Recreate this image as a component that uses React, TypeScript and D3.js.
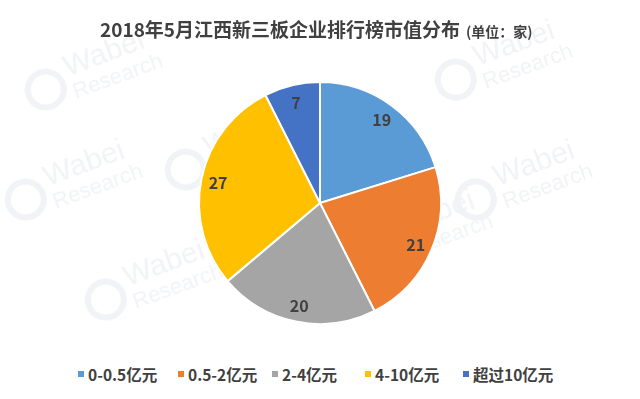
import React from "react";
import * as d3 from "d3";

const categories = ["0-0.5亿元", "0.5-2亿元", "2-4亿元", "4-10亿元", "超过10亿元"];
const values = [19, 21, 20, 27, 7];
const colors = ["#5B9BD5", "#ED7D31", "#A5A5A5", "#FFC000", "#4472C4"];
const legendX = [78, 178, 272, 365, 463];
const title = "2018年5月江西新三板企业排行榜市值分布";
const unit = "(单位：家)";

const W = 640;
const H = 399;
const cx = 320;
const cy = 203;
const R = 121;

const FONT = "'Noto Sans CJK SC', 'Noto Sans', sans-serif";

export default function App() {
  const pie = d3.pie<number>().sort(null).value((d) => d);
  const arcs = pie(values);
  const arc = d3.arc<d3.PieArcDatum<number>>().innerRadius(0).outerRadius(R);
  const labelArc = d3.arc<d3.PieArcDatum<number>>().innerRadius(104).outerRadius(104);

  const marks: { x: number; y: number }[] = [
    { x: 30, y: 90 }, { x: 170, y: 170 }, { x: 360, y: 250 }, { x: 90, y: 300 },
    { x: 440, y: 80 }, { x: 460, y: 200 }, { x: 10, y: 200 },
  ];

  return (
    <div style={{ position: "fixed", left: 0, top: 0 }}>
      <svg width={W} height={H} style={{ display: "block", background: "#fff" }}>
        <rect width={W} height={H} fill="#fff" />
        <g opacity={0.06} fill="#1f3b6e" fontFamily="'Liberation Sans', Arial, sans-serif">
          {marks.map((m, i) => (
            <g key={i} transform={`translate(${m.x},${m.y}) rotate(-20)`}>
              <text x={40} y={0} fontSize={30}>Wabei</text>
              <text x={40} y={24} fontSize={22}>Research</text>
              <circle cx={15} cy={5} r={18} fill="none" stroke="#1f3b6e" strokeWidth={6} />
            </g>
          ))}
        </g>
        <text x={100} y={37} fontFamily={FONT} fontWeight={700} fontSize={19} fill="#404040">
          {title}
          <tspan fontSize={14} dx={6}>{unit}</tspan>
        </text>
        <g transform={`translate(${cx},${cy})`}>
          {arcs.map((a, i) => (
            <path key={i} d={arc(a) || ""} fill={colors[i]} stroke="#fff" strokeWidth={2} />
          ))}
          {arcs.map((a, i) => {
            const [x, y] = labelArc.centroid(a);
            return (
              <text key={i} x={x} y={y} textAnchor="middle" dominantBaseline="central"
                fontFamily={FONT} fontWeight={700} fontSize={16} fill="#404040">
                {values[i]}
              </text>
            );
          })}
        </g>
        <g fontFamily={FONT} fontWeight={700} fontSize={15.5} fill="#404040">
          {categories.map((c, i) => (
            <g key={i} transform={`translate(${legendX[i]},374)`}>
              <rect x={0} y={-3} width={6} height={6} fill={colors[i]} />
              <text x={10} y={0} dominantBaseline="central">{c}</text>
            </g>
          ))}
        </g>
      </svg>
    </div>
  );
}
